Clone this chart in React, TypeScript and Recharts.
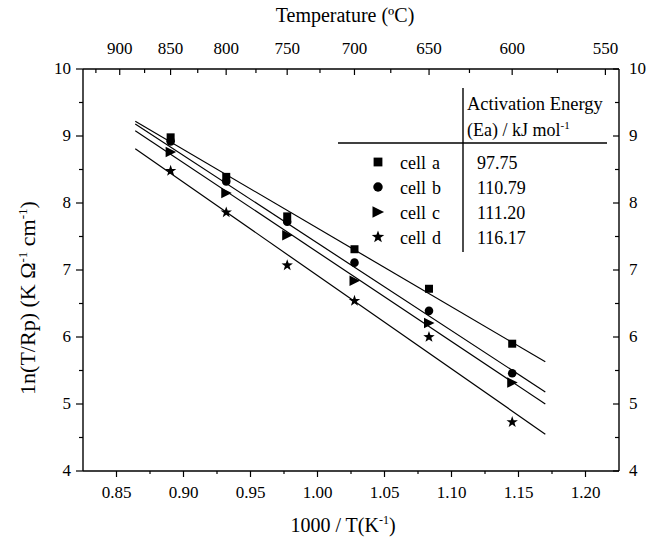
import React from "react";
import {
  ComposedChart,
  Scatter,
  Line,
  XAxis,
  YAxis,
  Legend,
  Label,
} from "recharts";

// measured points: 1000/T for 850..600 ºC
const INV_T = [0.8904, 0.9319, 0.9774, 1.0276, 1.0832, 1.1453];
const CELL_A = [8.98, 8.39, 7.8, 7.31, 6.72, 5.9];
const CELL_B = [8.92, 8.32, 7.72, 7.11, 6.39, 5.46];
const CELL_C = [8.76, 8.15, 7.52, 6.84, 6.21, 5.32];
const CELL_D = [8.48, 7.86, 7.07, 6.54, 6.0, 4.73];

// Arrhenius fit lines (end points)
const FIT_X = [0.864, 1.17];
const FIT_A = [9.22, 5.63];
const FIT_B = [9.18, 5.18];
const FIT_C = [9.08, 5.0];
const FIT_D = [8.81, 4.55];

const CELL_NAMES = ["cell a", "cell b", "cell c", "cell d"];
const EA_VALUES = ["97.75", "110.79", "111.20", "116.17"];

const BOTTOM_TICKS = [0.85, 0.875, 0.9, 0.925, 0.95, 0.975, 1.0, 1.025, 1.05, 1.075, 1.1, 1.125, 1.15, 1.175, 1.2];
const Y_TICKS = [4, 4.5, 5, 5.5, 6, 6.5, 7, 7.5, 8, 8.5, 9, 9.5, 10];
const TOP_TEMPS = [925, 900, 875, 850, 825, 800, 775, 750, 725, 700, 675, 650, 625, 600, 575, 550];

const FONT = "Liberation Serif";
const TICK_FS = 17;

const toPts = (xs: number[], ys: number[]) => xs.map((x, i) => ({ x, y: ys[i] }));
const topTickPos = TOP_TEMPS.map((t) => 1000 / (t + 273.15));

type MarkerKind = "square" | "circle" | "triangle" | "star";

function Marker({ kind, cx, cy, s = 1 }: { kind: MarkerKind; cx: number; cy: number; s?: number }) {
  if (kind === "square") {
    const h = 4 * s;
    return <rect x={cx - h} y={cy - h} width={2 * h} height={2 * h} fill="#000" />;
  }
  if (kind === "circle") return <circle cx={cx} cy={cy} r={4.3 * s} fill="#000" />;
  if (kind === "triangle") {
    const w = 5 * s;
    return <polygon points={`${cx - w},${cy - w * 1.05} ${cx + w * 1.1},${cy} ${cx - w},${cy + w * 1.05}`} fill="#000" />;
  }
  const pts: string[] = [];
  const R = 6 * s;
  const r = 2.4 * s;
  for (let i = 0; i < 10; i++) {
    const a = -Math.PI / 2 + (i * Math.PI) / 5;
    const rr = i % 2 === 0 ? R : r;
    pts.push(`${cx + rr * Math.cos(a)},${cy + rr * Math.sin(a)}`);
  }
  return <polygon points={pts.join(" ")} fill="#000" />;
}

const shapeOf = (kind: MarkerKind) => (p: any) => <Marker kind={kind} cx={p.cx} cy={p.cy} />;

const isMajorX = (v: number) => Math.abs(Math.round(v * 20) - v * 20) < 1e-6;
const isMajorY = (v: number) => Number.isInteger(v);

function BottomTick(p: any) {
  const v = p.payload.value;
  const major = isMajorX(v);
  return (
    <g>
      <line x1={p.x} x2={p.x} y1={p.y} y2={p.y + (major ? 6 : 3)} stroke="#000" strokeWidth={1.2} />
      {major && (
        <text x={p.x} y={p.y + 27} textAnchor="middle" fontFamily={FONT} fontSize={TICK_FS} fill="#000">
          {v.toFixed(2)}
        </text>
      )}
    </g>
  );
}

function TopTick(p: any) {
  const t = Math.round(1000 / p.payload.value - 273.15);
  const major = t % 50 === 0;
  return (
    <g>
      <line x1={p.x} x2={p.x} y1={p.y} y2={p.y + (major ? 6 : 4)} stroke="#000" strokeWidth={1.2} />
      {major && (
        <text x={p.x} y={p.y - 15} textAnchor="middle" fontFamily={FONT} fontSize={TICK_FS} fill="#000">
          {t}
        </text>
      )}
    </g>
  );
}

function LeftTick(p: any) {
  const v = p.payload.value;
  const major = isMajorY(v);
  return (
    <g>
      <line x1={p.x} x2={p.x - (major ? 7 : 4)} y1={p.y} y2={p.y} stroke="#000" strokeWidth={1.2} />
      {major && (
        <text x={p.x - 12} y={p.y + 5} textAnchor="end" fontFamily={FONT} fontSize={TICK_FS} fill="#000">
          {v}
        </text>
      )}
    </g>
  );
}

function RightTick(p: any) {
  const v = p.payload.value;
  const major = isMajorY(v);
  return (
    <g>
      <line x1={p.x} x2={p.x - (major ? 6 : 4)} y1={p.y} y2={p.y} stroke="#000" strokeWidth={1.2} />
      {major && (
        <text x={p.x + 10} y={p.y + 5} textAnchor="start" fontFamily={FONT} fontSize={TICK_FS} fill="#000">
          {v}
        </text>
      )}
    </g>
  );
}

const KINDS: MarkerKind[] = ["square", "circle", "triangle", "star"];

function EaTable() {
  // origin at page (330, 80)
  return (
    <svg width={290} height={180} style={{ overflow: "visible" }}>
      <g fontFamily={FONT} fontSize={18} fill="#000">
        <line x1={133} x2={133} y1={8} y2={172} stroke="#000" strokeWidth={1.4} />
        <line x1={8} x2={277} y1={63} y2={63} stroke="#000" strokeWidth={1.4} />
        <text x={137} y={30} fontSize={18.5}>Activation Energy</text>
        <text x={137} y={56}>
          (Ea) / kJ mol<tspan dy={-7} fontSize={11}>-1</tspan>
        </text>
        {CELL_NAMES.map((n, i) => (
          <g key={n}>
            <Marker kind={KINDS[i]} cx={48} cy={82 + i * 25} s={1.1} />
            <text x={70} y={89 + i * 25} wordSpacing={1.5}>{n}</text>
            <text x={147} y={89 + i * 25}>{EA_VALUES[i]}</text>
          </g>
        ))}
      </g>
    </svg>
  );
}

export default function App() {
  const series = [CELL_A, CELL_B, CELL_C, CELL_D];
  const fits = [FIT_A, FIT_B, FIT_C, FIT_D];
  return (
    <div style={{ position: "absolute", left: 0, top: 0, width: 658, height: 543, background: "#fff" }}>
      <ComposedChart width={658} height={543} margin={{ top: 39, right: 9, bottom: 42, left: 53 }}>
        <XAxis
          xAxisId="bottom"
          dataKey="x"
          type="number"
          domain={[0.825, 1.225]}
          ticks={BOTTOM_TICKS}
          interval={0}
          allowDataOverflow
          height={30}
          tickSize={0}
          tickMargin={0}
          tickLine={false}
          axisLine={{ stroke: "#000", strokeWidth: 1.4 }}
          tick={BottomTick}
        >
          <Label
            content={() => (
              <text x={343} y={532} textAnchor="middle" fontFamily={FONT} fontSize={20} fill="#000">
                1000 / T(K<tspan dy={-8} fontSize={12}>-1</tspan>
                <tspan dy={8}>)</tspan>
              </text>
            )}
          />
        </XAxis>
        <XAxis
          xAxisId="top"
          dataKey="x"
          orientation="top"
          type="number"
          domain={[0.825, 1.225]}
          ticks={topTickPos}
          interval={0}
          allowDataOverflow
          height={30}
          tickSize={0}
          tickMargin={0}
          tickLine={false}
          axisLine={{ stroke: "#000", strokeWidth: 1.4 }}
          tick={TopTick}
        >
          <Label
            content={() => (
              <text x={345} y={22} textAnchor="middle" fontFamily={FONT} fontSize={20} fill="#000">
                Temperature (ºC)
              </text>
            )}
          />
        </XAxis>
        <YAxis
          yAxisId="left"
          dataKey="y"
          type="number"
          domain={[4, 10]}
          ticks={Y_TICKS}
          interval={0}
          allowDataOverflow
          width={30}
          tickSize={0}
          tickMargin={0}
          tickLine={false}
          axisLine={{ stroke: "#000", strokeWidth: 1.4 }}
          tick={LeftTick}
        >
          <Label
            content={() => (
              <text
                transform="translate(35,298) rotate(-90)"
                textAnchor="middle"
                fontFamily={FONT}
                fontSize={22}
                fill="#000"
              >
                1n(T/Rp) (K Ω<tspan dy={-8} fontSize={13}>-1</tspan>
                <tspan dy={8}> cm</tspan>
                <tspan dy={-8} fontSize={13}>-1</tspan>
                <tspan dy={8}>)</tspan>
              </text>
            )}
          />
        </YAxis>
        <YAxis
          yAxisId="right"
          dataKey="y"
          orientation="right"
          type="number"
          domain={[4, 10]}
          ticks={Y_TICKS}
          interval={0}
          allowDataOverflow
          width={30}
          tickSize={0}
          tickMargin={0}
          tickLine={false}
          axisLine={{ stroke: "#000", strokeWidth: 1.4 }}
          tick={RightTick}
        />
        {fits.map((f, i) => (
          <Line
            key={"fit" + i}
            xAxisId="bottom"
            yAxisId="left"
            data={toPts(FIT_X, f)}
            dataKey="y"
            type="linear"
            stroke="#000"
            strokeWidth={1.2}
            dot={false}
            activeDot={false}
            isAnimationActive={false}
            legendType="none"
          />
        ))}
        {series.map((s, i) => (
          <Scatter
            key={CELL_NAMES[i]}
            name={CELL_NAMES[i]}
            xAxisId="bottom"
            yAxisId="left"
            data={toPts(INV_T, s)}
            dataKey="y"
            shape={shapeOf(KINDS[i])}
            isAnimationActive={false}
          />
        ))}
        {/* invisible copy so the top/right axes have a series bound to them */}
        <Scatter
          xAxisId="top"
          yAxisId="right"
          data={toPts(INV_T, CELL_A)}
          dataKey="y"
          shape={() => <g />}
          legendType="none"
          isAnimationActive={false}
        />
        <Legend
          layout="horizontal"
          verticalAlign="middle"
          align="center"
          content={() => <EaTable />}
          wrapperStyle={{ position: "absolute", left: 330, top: 80, width: 290, height: 180 }}
        />
      </ComposedChart>
    </div>
  );
}
